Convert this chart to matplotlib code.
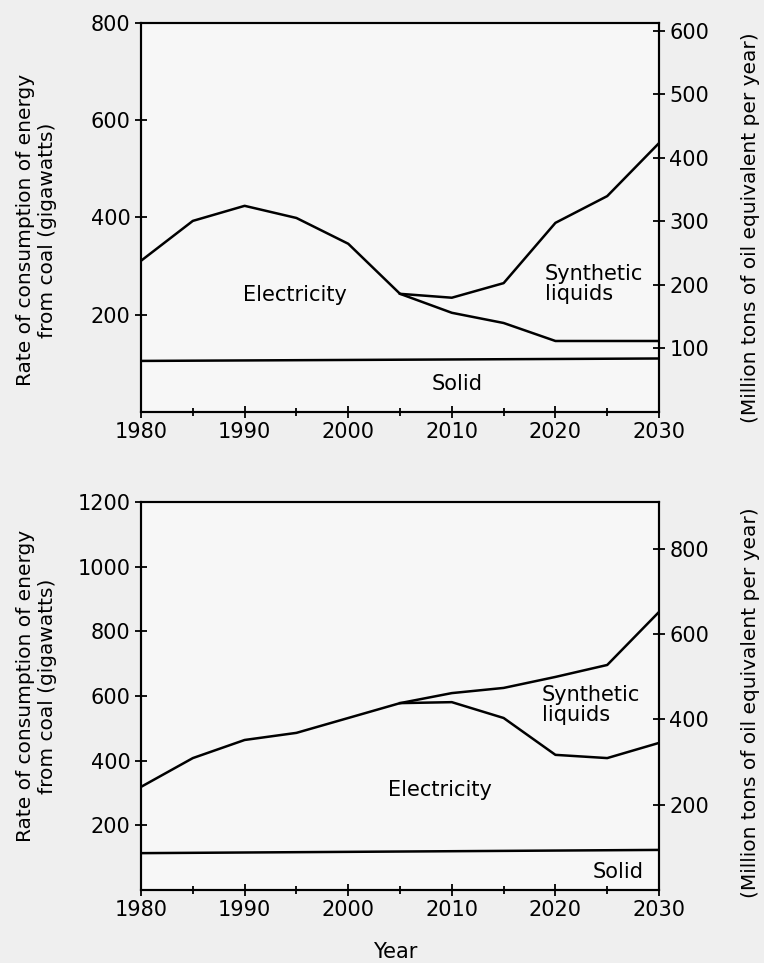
import matplotlib
matplotlib.use("Agg")
import matplotlib.pyplot as plt
from matplotlib.ticker import MultipleLocator

plt.rcParams["font.family"] = ["DejaVu Sans"]

# Top panel (GW)
years = [1980, 1985, 1990, 1995, 2000, 2005, 2010, 2015, 2020, 2025, 2030]
top_total = [311, 393, 424, 399, 346, 243, 235, 265, 389, 444, 553]
top_split_years = [2005, 2010, 2015, 2020, 2025, 2030]
top_elec = [243, 204, 183, 146, 146, 146]
solid_years = [1980, 2030]
top_solid = [105, 110]

# Bottom panel
bot_total = [319, 408, 464, 486, 532, 578, 609, 625, 659, 696, 860]
bot_split_years = [2005, 2010, 2015, 2020, 2025, 2030]
bot_elec = [578, 581, 532, 418, 408, 455]
bot_solid = [114, 124]

left_label = "Rate of consumption of energy\nfrom coal (gigawatts)"
right_label = "(Million tons of oil equivalent per year)"

fig = plt.figure(figsize=(7.64, 9.63), dpi=100, facecolor="#efefef")
ax_top = fig.add_axes([0.1846, 0.5722, 0.678, 0.4039])
ax_bot = fig.add_axes([0.1846, 0.0758, 0.678, 0.4029])

lw = 1.8
fs = 15


def style_axes(ax, ymax, yticks, rmax, rticks, ly, ry):
    ax.set_facecolor("#f7f7f7")
    ax.set_xlim(1980, 2030)
    ax.set_ylim(0, ymax)
    ax.set_yticks(yticks)
    ax.xaxis.set_major_locator(MultipleLocator(10))
    ax.xaxis.set_minor_locator(MultipleLocator(5))
    ax.tick_params(axis="both", which="both", direction="inout", length=9,
                   width=1.3, labelsize=fs, pad=3)
    ax.tick_params(axis="x", which="minor", length=6)
    for sp in ax.spines.values():
        sp.set_linewidth(1.5)
    ax.set_ylabel(left_label, fontsize=14.5, linespacing=1.15)
    ax.yaxis.set_label_coords(-0.163, ly)
    axr = ax.twinx()
    axr.set_ylim(0, rmax)
    axr.set_yticks(rticks)
    axr.tick_params(axis="y", direction="inout", length=9, width=1.3,
                    labelsize=fs, pad=3)
    axr.set_ylabel(right_label, fontsize=14.5)
    axr.yaxis.set_label_coords(1.158, ry)
    for sp in axr.spines.values():
        sp.set_linewidth(1.5)
    return axr


style_axes(ax_top, 800, [200, 400, 600, 800], 612, [100, 200, 300, 400, 500, 600],
           0.468, 0.473)
style_axes(ax_bot, 1200, [200, 400, 600, 800, 1000, 1200], 910, [200, 400, 600, 800],
           0.526, 0.482)

ax_top.plot(years, top_total, color="black", lw=lw)
ax_top.plot(top_split_years, top_elec, color="black", lw=lw)
ax_top.plot(solid_years, top_solid, color="black", lw=lw)
ax_top.text(1994.9, 241, "Electricity", fontsize=fs, ha="center", va="center")
ax_top.text(2019, 263, "Synthetic\nliquids", fontsize=fs, ha="left", va="center",
            linespacing=1.0)
ax_top.text(2010.5, 58, "Solid", fontsize=fs, ha="center", va="center")

ax_bot.plot(years, bot_total, color="black", lw=lw)
ax_bot.plot(bot_split_years, bot_elec, color="black", lw=lw)
ax_bot.plot(solid_years, bot_solid, color="black", lw=lw)
ax_bot.text(2008.9, 309, "Electricity", fontsize=fs, ha="center", va="center")
ax_bot.text(2018.7, 572, "Synthetic\nliquids", fontsize=fs, ha="left", va="center",
            linespacing=1.0)
ax_bot.text(2026.1, 56, "Solid", fontsize=fs, ha="center", va="center")

fig.text(395 / 764, 1 - 952 / 963, "Year", fontsize=fs, ha="center", va="center")

fig.savefig("out.png", dpi=100, facecolor=fig.get_facecolor())
